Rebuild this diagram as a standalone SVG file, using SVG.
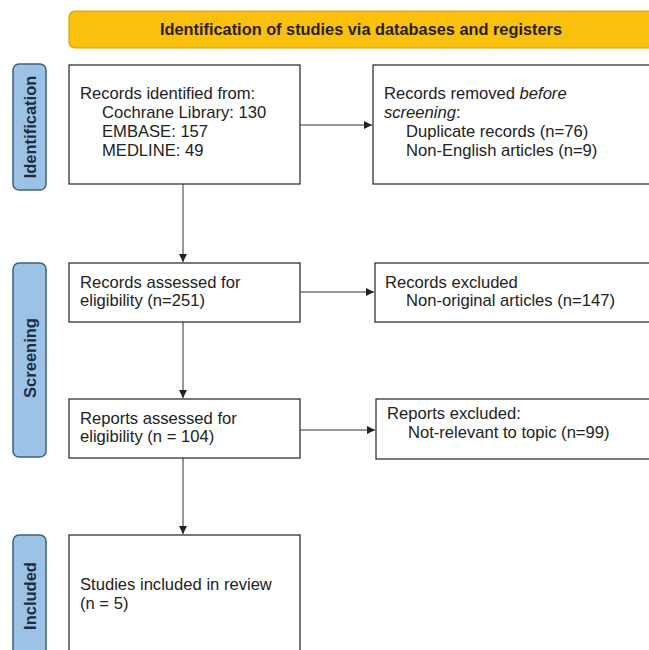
<svg xmlns="http://www.w3.org/2000/svg" width="649" height="650" viewBox="0 0 649 650">
<style>
  .box{fill:#fff;stroke:#333;stroke-width:1.3}
  .side{fill:#9CC3E5;stroke:#41607F;stroke-width:1.5}
  .t{font-family:"Liberation Sans",Arial,sans-serif;font-size:16.6px;fill:#222}
  .sl{font-family:"Liberation Sans",Arial,sans-serif;font-size:16.5px;font-weight:bold;fill:#1d2c44;text-anchor:middle}
  .c{stroke:#333;stroke-width:1;fill:none}
</style>
<defs>
  <marker id="ah" viewBox="0 0 10 10" refX="10" refY="5" markerWidth="8" markerHeight="8" markerUnits="userSpaceOnUse" orient="auto">
    <path d="M0,0 L10,5 L0,10 z" fill="#222"/>
  </marker>
</defs>
<rect width="649" height="650" fill="#fff"/>
<g id="banner">
  <rect x="69" y="11" width="600" height="37" rx="6" fill="#F9C10E" stroke="#D9A200" stroke-width="1.2"/>
  <text x="361" y="35" font-family="Liberation Sans,Arial,sans-serif" font-size="16.3" font-weight="bold" fill="#2a1e10" text-anchor="middle" textLength="402" lengthAdjust="spacingAndGlyphs">Identification of studies via databases and registers</text>
</g>
<g id="side-identification">
  <rect class="side" x="13" y="64" width="33" height="126" rx="6"/>
  <text class="sl" transform="translate(35.5,127) rotate(-90)">Identification</text>
</g>
<g id="side-screening">
  <rect class="side" x="13" y="263" width="33" height="194" rx="6"/>
  <text class="sl" transform="translate(35.5,358) rotate(-90)">Screening</text>
</g>
<g id="side-included">
  <rect class="side" x="13" y="535" width="33" height="130" rx="6"/>
  <text class="sl" transform="translate(35.5,596) rotate(-90)">Included</text>
</g>
<g id="connectors">
  <line class="c" x1="300" y1="125" x2="372" y2="125" marker-end="url(#ah)"/>
  <line class="c" x1="183" y1="184" x2="183" y2="262" marker-end="url(#ah)"/>
  <line class="c" x1="300" y1="292" x2="374" y2="292" marker-end="url(#ah)"/>
  <line class="c" x1="183" y1="322" x2="183" y2="398" marker-end="url(#ah)"/>
  <line class="c" x1="300" y1="430" x2="375" y2="430" marker-end="url(#ah)"/>
  <line class="c" x1="183" y1="458" x2="183" y2="534" marker-end="url(#ah)"/>
</g>
<g id="records-identified">
  <rect class="box" x="69" y="65" width="231" height="119"/>
  <text class="t" x="80" y="99">Records identified from:</text>
  <text class="t" x="102" y="118">Cochrane Library: 130</text>
  <text class="t" x="102" y="137">EMBASE: 157</text>
  <text class="t" x="102" y="156">MEDLINE: 49</text>
</g>
<g id="records-removed">
  <rect class="box" x="373" y="65" width="290" height="119"/>
  <text class="t" x="384" y="99">Records removed <tspan font-style="italic">before</tspan></text>
  <text class="t" x="384" y="118"><tspan font-style="italic">screening</tspan>:</text>
  <text class="t" x="406" y="137">Duplicate records (n=76)</text>
  <text class="t" x="406" y="156">Non-English articles (n=9)</text>
</g>
<g id="records-assessed">
  <rect class="box" x="69" y="263" width="231" height="59"/>
  <text class="t" x="80" y="288">Records assessed for</text>
  <text class="t" x="80" y="306">eligibility (n=251)</text>
</g>
<g id="records-excluded">
  <rect class="box" x="375" y="263" width="290" height="59"/>
  <text class="t" x="385" y="288">Records excluded</text>
  <text class="t" x="406" y="306">Non-original articles (n=147)</text>
</g>
<g id="reports-assessed">
  <rect class="box" x="69" y="399" width="231" height="59"/>
  <text class="t" x="80" y="424">Reports assessed for</text>
  <text class="t" x="80" y="442">eligibility (n = 104)</text>
</g>
<g id="reports-excluded">
  <rect class="box" x="376" y="399" width="290" height="60"/>
  <text class="t" x="387" y="419">Reports excluded:</text>
  <text class="t" x="408" y="438">Not-relevant to topic (n=99)</text>
</g>
<g id="studies-included">
  <rect class="box" x="69" y="535" width="231" height="130"/>
  <text class="t" x="80" y="590">Studies included in review</text>
  <text class="t" x="80" y="609">(n = 5)</text>
</g>
</svg>
